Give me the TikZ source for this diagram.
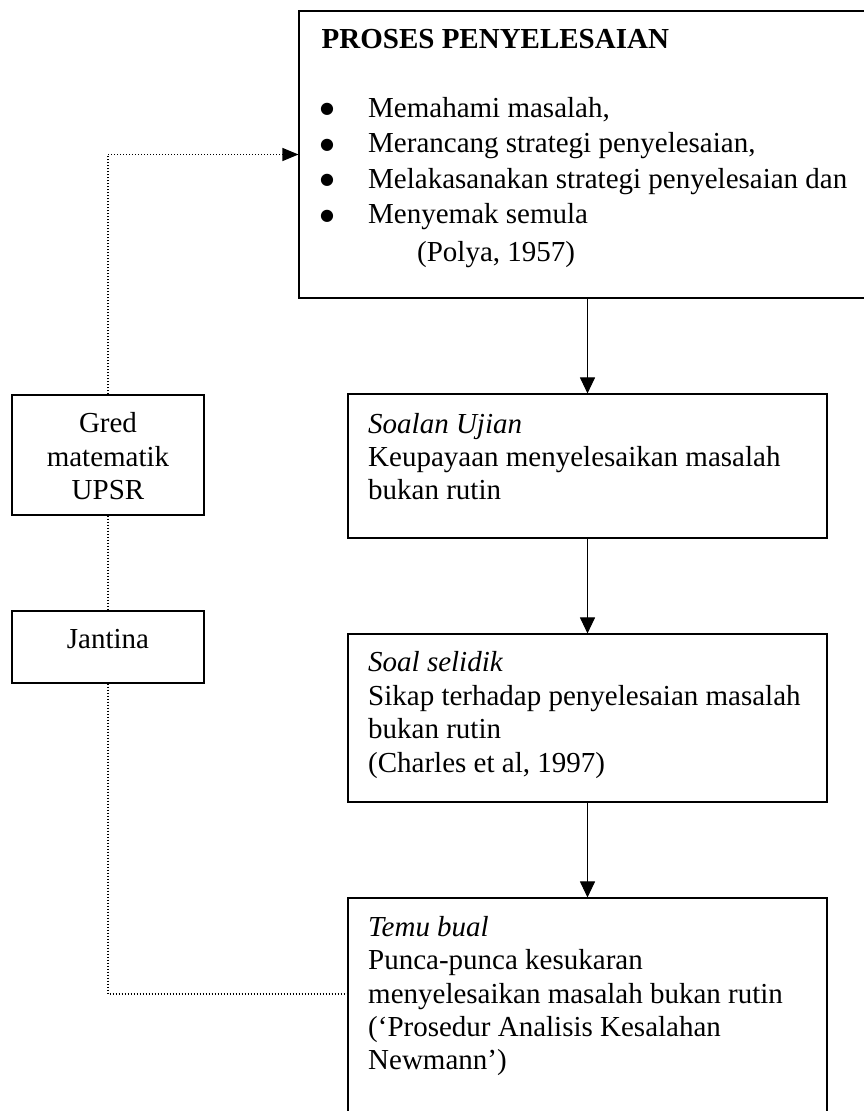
\documentclass[tikz,border=0pt]{standalone}
\usepackage{fontspec}
\setmainfont{Liberation Serif}
\newfontfamily\symfont{DejaVu Sans}
\usetikzlibrary{arrows.meta,calc}
\begin{document}
\begin{tikzpicture}[x=1pt,y=-1pt,
  box/.style={draw,line width=1.1pt,rectangle,inner sep=0pt},
  txt/.style={inner sep=0pt,font=\fontsize{29}{33.4}\selectfont},
  bul/.style={inner sep=0pt,font=\symfont\fontsize{16}{16}\selectfont,anchor=center},
  flow/.style={line width=1pt,-{Triangle[length=16pt,width=15pt]}},
  dots/.style={line width=1.2pt,dash pattern=on 1.2pt off 1.8pt},
  dotarrow/.style={dots,-{Triangle[length=16pt,width=13pt]}}]
\useasboundingbox (0,0) rectangle (864,1111);
% boxes
\node[box,minimum width=571pt,minimum height=287pt] (top) at (584.5,154.5) {};
\node[box,minimum width=479pt,minimum height=144pt] (soalan) at (587.5,466) {};
\node[box,minimum width=479pt,minimum height=168pt] (soal) at (587.5,718) {};
\node[box,minimum width=479pt,minimum height=222pt] (temu) at (587.5,1009) {};
\node[box,minimum width=192pt,minimum height=120pt] (gred) at (108,455) {};
\node[box,minimum width=192pt,minimum height=72pt] (jantina) at (108,647) {};
% top box text
\node[txt,anchor=base west,font=\fontsize{29}{33.4}\selectfont\bfseries] (title) at (321.5,48) {PROSES PENYELESAIAN};
\node[bul] (b1) at (327,109.5) {●};
\node[bul] (b2) at (327,145) {●};
\node[bul] (b3) at (327,180.5) {●};
\node[bul] (b4) at (327,216) {●};
\node[txt,anchor=base west] (t1) at (368,117) {Memahami masalah,};
\node[txt,anchor=base west] (t2) at (368,152.5) {Merancang strategi penyelesaian,};
\node[txt,anchor=base west] (t3) at (368,188) {Melakasanakan strategi penyelesaian dan};
\node[txt,anchor=base west] (t4) at (368,223.5) {Menyemak semula};
\node[txt,anchor=base west] (t5) at (417,261) {(Polya, 1957)};
% soalan ujian
\node[txt,anchor=base west] (s1) at (368,433) {\itshape Soalan Ujian};
\node[txt,anchor=base west] (s2) at (368,466) {Keupayaan menyelesaikan masalah};
\node[txt,anchor=base west] (s3) at (368,499) {bukan rutin};
% soal selidik
\node[txt,anchor=base west] (q1) at (368,671) {\itshape Soal selidik};
\node[txt,anchor=base west] (q2) at (368,705) {Sikap terhadap penyelesaian masalah};
\node[txt,anchor=base west] (q3) at (368,738) {bukan rutin};
\node[txt,anchor=base west] (q4) at (368,772) {(Charles et al, 1997)};
% temu bual
\node[txt,anchor=base west] (m1) at (368,936) {\itshape Temu bual};
\node[txt,anchor=base west] (m2) at (368,969) {Punca-punca kesukaran};
\node[txt,anchor=base west] (m3) at (368,1003) {menyelesaikan masalah bukan rutin};
\node[txt,anchor=base west] (m4) at (368,1036) {(‘Prosedur Analisis Kesalahan};
\node[txt,anchor=base west] (m5) at (368,1069) {Newmann’)};
% left boxes text
\node[txt,anchor=base] (g1) at (108,432) {Gred};
\node[txt,anchor=base] (g2) at (108,466) {matematik};
\node[txt,anchor=base] (g3) at (108,499) {UPSR};
\node[txt,anchor=base] (j1) at (108,648) {Jantina};
% connectors
\draw[flow] (soalan.north |- top.south) -- (soalan.north);
\draw[flow] (soalan.south) -- (soal.north);
\draw[flow] (soal.south) -- (temu.north);
\draw[dotarrow] (gred.north) |- (top.west);
\draw[dots] (gred.south) -- (jantina.north);
\coordinate (tin) at ($(temu.west)+(0,-15)$);
\draw[dots] (jantina.south) |- (tin);
\end{tikzpicture}
\end{document}
